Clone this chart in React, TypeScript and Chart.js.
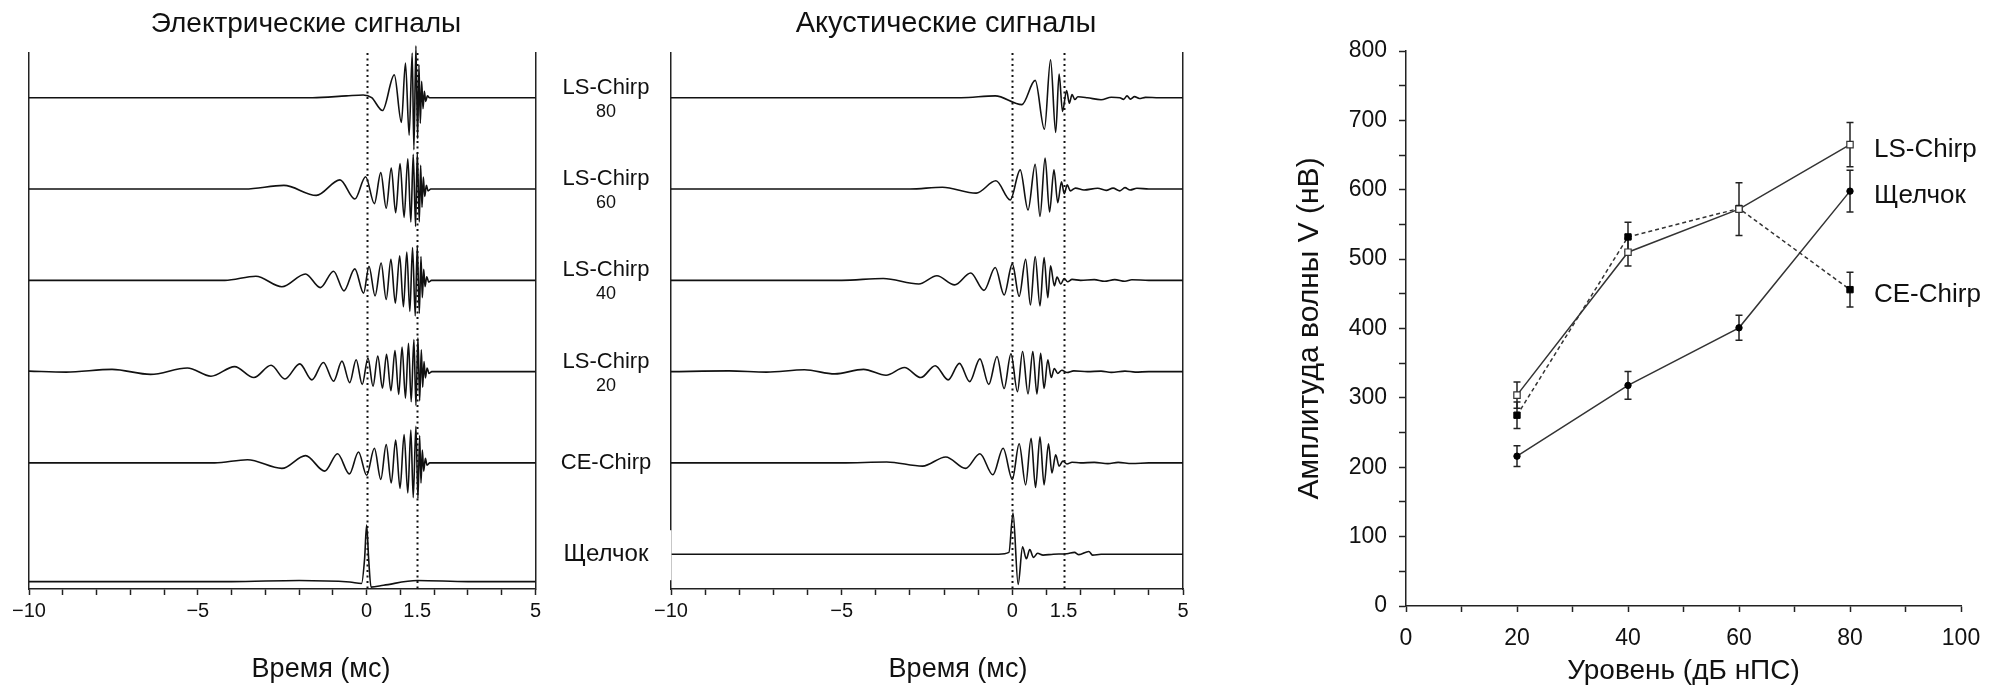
import React, { useEffect, useRef } from "react";
import { Chart, registerables } from "chart.js";

Chart.register(...registerables);

const FONT = '"Liberation Sans", Arial, Helvetica, sans-serif';
const INK = "#111";

// ---------- waveform panels (time in ms, amplitude in trace-spacing units) ----------
const timeTicks = [-10, -9, -8, -7, -6, -5, -4, -3, -2, -1, 0, 1, 1.5, 2, 3, 4, 5];
const timeLabels = [-10, -5, 0, 1.5, 5];
const markerTimes = [0, 1.5];

const traceNames = [["LS-Chirp", "80"], ["LS-Chirp", "60"], ["LS-Chirp", "40"], ["LS-Chirp", "20"], ["CE-Chirp"], ["Щелчок"]];
const electricBases = [6, 5, 4, 3, 2, 0.7];
const acousticBases = [6, 5, 4, 3, 2, 1.0];

const elecLS80 = [[-10, 0], [-1.6, 0], [-0.6, 0.02], [-0.1, 0.03], [0.15, 0], [0.47, -0.14], [0.82, 0.25], [1.03, -0.27], [1.15, 0.38], [1.26, -0.41], [1.35, 0.49], [1.40, -0.57], [1.46, 0.57], [1.51, -0.45], [1.55, 0.36], [1.59, -0.28], [1.63, 0.18], [1.67, -0.12], [1.71, 0.07], [1.75, -0.04], [1.80, 0.02], [1.86, 0], [5, 0]];
const elecLS60 = [[-10, 0], [-3.6, 0], [-2.45, 0.04], [-1.49, -0.07], [-0.79, 0.10], [-0.35, -0.11], [-0.03, 0.135], [0.23, -0.16], [0.42, 0.18], [0.58, -0.21], [0.73, 0.23], [0.86, -0.26], [0.99, 0.28], [1.11, -0.31], [1.22, 0.33], [1.31, -0.36], [1.38, 0.38], [1.45, -0.41], [1.50, 0.40], [1.56, -0.36], [1.60, 0.26], [1.64, -0.2], [1.68, 0.13], [1.72, -0.08], [1.77, 0.04], [1.82, -0.02], [1.9, 0], [5, 0]];
const elecLS40 = [[-10, 0], [-4.2, 0], [-3.28, 0.045], [-2.51, -0.07], [-1.81, 0.07], [-1.37, -0.08], [-0.98, 0.10], [-0.67, -0.115], [-0.35, 0.125], [-0.09, -0.14], [0.07, 0.155], [0.25, -0.17], [0.43, 0.19], [0.58, -0.21], [0.72, 0.23], [0.85, -0.25], [0.98, 0.27], [1.09, -0.29], [1.19, 0.31], [1.28, -0.34], [1.36, 0.36], [1.44, -0.39], [1.50, 0.38], [1.56, -0.36], [1.61, 0.26], [1.65, -0.19], [1.69, 0.12], [1.73, -0.07], [1.78, 0.04], [1.84, -0.02], [1.92, 0], [5, 0]];
const elecLS20 = [[-10, 0.005], [-8.9, -0.005], [-7.54, 0.025], [-6.4, -0.03], [-5.31, 0.04], [-4.61, -0.05], [-3.91, 0.055], [-3.34, -0.065], [-2.83, 0.07], [-2.42, -0.08], [-1.98, 0.085], [-1.62, -0.09], [-1.28, 0.1], [-0.98, -0.105], [-0.73, 0.115], [-0.50, -0.12], [-0.31, 0.13], [-0.13, -0.14], [0.04, 0.15], [0.19, -0.16], [0.33, 0.17], [0.47, -0.18], [0.59, 0.19], [0.72, -0.21], [0.84, 0.23], [0.95, -0.25], [1.05, 0.27], [1.15, -0.29], [1.24, 0.31], [1.32, -0.33], [1.40, 0.35], [1.46, -0.37], [1.52, 0.37], [1.57, -0.32], [1.62, 0.24], [1.66, -0.17], [1.70, 0.11], [1.74, -0.07], [1.79, 0.04], [1.85, -0.02], [1.93, 0], [5, 0]];
const elecCE = [[-10, 0], [-4.5, 0], [-3.53, 0.035], [-2.51, -0.06], [-1.81, 0.08], [-1.24, -0.09], [-0.86, 0.10], [-0.51, -0.12], [-0.24, 0.12], [0.0, -0.135], [0.23, 0.16], [0.42, -0.18], [0.58, 0.20], [0.73, -0.22], [0.86, 0.25], [0.99, -0.28], [1.11, 0.31], [1.22, -0.33], [1.31, 0.36], [1.38, -0.38], [1.46, 0.40], [1.52, -0.39], [1.57, 0.30], [1.61, -0.22], [1.65, 0.14], [1.69, -0.09], [1.74, 0.05], [1.79, -0.025], [1.87, 0], [5, 0]];
const elecClick = [[-10, 0], [-4, 0], [-2, 0.012], [-0.5, -0.005], [-0.15, -0.02], [-0.06, 0.25], [0, 0.62], [0.06, 0.25], [0.13, -0.06], [0.5, -0.04], [1.5, 0.012], [3, 0], [5, 0]];

const acousLS80 = [[-10, 0], [-1.5, 0], [-0.5, 0.02], [0.28, -0.075], [0.67, 0.19], [0.94, -0.345], [1.12, 0.415], [1.27, -0.38], [1.37, 0.26], [1.47, -0.15], [1.59, 0.08], [1.67, -0.06], [1.75, 0.035], [1.83, -0.02], [1.92, 0.01], [2.2, 0], [2.6, -0.022], [2.9, 0.006], [3.15, 0], [3.26, -0.018], [3.36, 0.02], [3.46, -0.015], [3.58, 0.012], [3.72, -0.008], [3.9, 0.004], [4.3, 0], [5, 0]];
const acousLS60 = [[-10, 0], [-3.0, 0], [-2.05, 0.02], [-1.06, -0.045], [-0.48, 0.09], [-0.06, -0.12], [0.23, 0.21], [0.46, -0.23], [0.67, 0.27], [0.81, -0.30], [0.96, 0.34], [1.09, -0.25], [1.22, 0.21], [1.33, -0.15], [1.44, 0.08], [1.52, -0.05], [1.61, 0.045], [1.70, -0.02], [1.85, 0.01], [2.1, -0.01], [2.5, 0.008], [2.75, -0.015], [2.95, 0.01], [3.15, -0.02], [3.3, 0.015], [3.45, -0.01], [3.65, 0.008], [4.0, 0], [5, 0]];
const acousLS40 = [[-10, 0], [-5.0, 0], [-3.78, 0.02], [-2.74, -0.04], [-2.21, 0.05], [-1.69, -0.05], [-1.22, 0.08], [-0.83, -0.11], [-0.50, 0.14], [-0.24, -0.16], [0.0, 0.18], [0.2, -0.175], [0.39, 0.23], [0.53, -0.27], [0.67, 0.26], [0.81, -0.28], [0.93, 0.25], [1.04, -0.19], [1.12, 0.16], [1.23, -0.06], [1.31, 0.035], [1.42, -0.04], [1.52, 0.02], [1.62, -0.015], [1.75, 0.01], [2.0, 0], [2.4, 0.008], [2.7, -0.01], [3.0, 0.008], [3.3, -0.01], [3.5, 0.006], [4.0, 0], [5, 0]];
const acousLS20 = [[-10, 0], [-8.3, 0.008], [-7.2, -0.005], [-6.09, 0.02], [-5.2, -0.025], [-4.36, 0.025], [-3.7, -0.04], [-3.16, 0.045], [-2.68, -0.065], [-2.26, 0.065], [-1.88, -0.09], [-1.55, 0.09], [-1.25, -0.11], [-0.95, 0.14], [-0.69, -0.14], [-0.45, 0.165], [-0.24, -0.185], [-0.04, 0.195], [0.15, -0.22], [0.30, 0.22], [0.46, -0.245], [0.60, 0.22], [0.72, -0.245], [0.83, 0.20], [0.93, -0.185], [1.04, 0.13], [1.14, -0.065], [1.23, 0.035], [1.33, -0.02], [1.45, 0.015], [1.6, -0.01], [1.8, 0.008], [2.2, 0], [2.6, 0.006], [2.9, -0.008], [3.3, 0.006], [3.6, -0.005], [4.0, 0], [5, 0]];
const acousCE = [[-10, 0], [-5, 0], [-3.68, 0.01], [-2.63, -0.035], [-1.95, 0.065], [-1.37, -0.06], [-0.95, 0.10], [-0.57, -0.13], [-0.27, 0.16], [0.0, -0.18], [0.2, 0.21], [0.39, -0.24], [0.55, 0.27], [0.68, -0.27], [0.81, 0.285], [0.93, -0.24], [1.06, 0.21], [1.16, -0.11], [1.27, 0.09], [1.37, -0.035], [1.48, 0.02], [1.6, -0.012], [1.75, 0.008], [2.0, 0], [2.4, 0.006], [2.8, -0.008], [3.1, 0.006], [3.5, -0.006], [4, 0], [5, 0]];
const acousClick = [[-10, 0], [-0.4, 0], [-0.1, 0.02], [0.02, 0.45], [0.17, -0.33], [0.30, 0.08], [0.41, -0.05], [0.51, 0.05], [0.62, -0.035], [0.74, 0.01], [0.9, -0.01], [1.2, 0], [1.6, 0.005], [1.82, 0.02], [1.95, -0.005], [2.24, 0.03], [2.35, -0.01], [2.6, 0], [5, 0]];

const electricTraces = [elecLS80, elecLS60, elecLS40, elecLS20, elecCE, elecClick];
const acousticTraces = [acousLS80, acousLS60, acousLS40, acousLS20, acousCE, acousClick];

// ---------- amplitude panel ----------
const levels = [20, 40, 60, 80];
const lsChirpAmp = [304, 510, 572, 665];
const lsChirpErr = [19, 20, 38, 32];
const ceChirpAmp = [275, 532, 573, 456];
const ceChirpErr = [19, 21, 0, 25];
const clickAmp = [216, 318, 401, 598];
const clickErr = [15, 20, 18, 30];
const seriesNames = ["LS-Chirp", "CE-Chirp", "Щелчок"];

const fmtTime = (v: number) => (v < 0 ? "\u2212" + Math.abs(v) : String(v));

function waveConfig(traces: number[][][], bases: number[], pad: any, textDraw: (chart: any) => void) {
  const markers = {
    id: "markers",
    beforeDatasetsDraw(chart: any) {
      const { ctx, chartArea, scales } = chart;
      ctx.save();
      ctx.strokeStyle = INK;
      ctx.lineWidth = 2;
      ctx.setLineDash([2, 3.5]);
      markerTimes.forEach((t) => {
        const x = Math.round(scales.x.getPixelForValue(t)) + 0.5;
        ctx.beginPath();
        ctx.moveTo(x, chartArea.top);
        ctx.lineTo(x, chartArea.bottom);
        ctx.stroke();
      });
      ctx.restore();
    },
    afterDraw(chart: any) {
      textDraw(chart);
    },
  };
  const yScale = (position: string) => ({
    type: "linear",
    axis: "y",
    position,
    min: 0.619,
    max: 6.49,
    ticks: { display: false },
    grid: { display: false },
    border: { display: true, color: "#222", width: 1.5 },
    afterFit: (s: any) => {
      s.width = 0;
    },
  });
  return {
    type: "line",
    data: {
      datasets: traces.map((pts, i) => ({
        data: pts.map((p) => ({ x: p[0], y: bases[i] + p[1] })),
        borderColor: INK,
        borderWidth: 1.6,
        pointRadius: 0,
        cubicInterpolationMode: "monotone",
        clip: false,
        fill: false,
      })),
    },
    options: {
      responsive: false,
      animation: false,
      events: [],
      layout: { padding: pad },
      plugins: { legend: { display: false }, tooltip: { enabled: false } },
      scales: {
        x: {
          type: "linear",
          min: -10,
          max: 5,
          afterBuildTicks: (s: any) => {
            s.ticks = timeTicks.map((v) => ({ value: v }));
          },
          afterFit: (s: any) => {
            s.height = 109;
          },
          ticks: {
            autoSkip: false,
            maxRotation: 0,
            padding: 4,
            color: INK,
            font: { family: FONT, size: 20 },
            callback: (v: number) => (timeLabels.includes(v) ? fmtTime(v) : ""),
          },
          grid: {
            display: true,
            drawOnChartArea: false,
            drawTicks: true,
            tickLength: 6,
            tickWidth: 1.5,
            tickColor: (c: any) => (c.tick && c.tick.value === 1.5 ? "rgba(0,0,0,0)" : "#222"),
          },
          border: { display: true, color: "#222", width: 1.5 },
        },
        y: yScale("left"),
        yR: yScale("right"),
      },
    },
    plugins: [markers],
  };
}

function drawText(ctx: any, text: string, x: number, y: number, size: number, align = "center", baseline = "alphabetic") {
  ctx.save();
  ctx.fillStyle = INK;
  ctx.font = `${size}px ${FONT}`;
  ctx.textAlign = align;
  ctx.textBaseline = baseline;
  ctx.fillText(text, x, y);
  ctx.restore();
}

function ampConfig() {
  const errBars = {
    id: "errbars",
    beforeDatasetsDraw(chart: any) {
      const { ctx, scales } = chart;
      ctx.save();
      ctx.strokeStyle = "#222";
      ctx.lineWidth = 1.5;
      chart.data.datasets.forEach((ds: any) => {
        ds.data.forEach((pt: any, i: number) => {
          const e = ds.errors[i];
          if (!e) return;
          const x = scales.x.getPixelForValue(pt.x);
          const y1 = scales.y.getPixelForValue(pt.y + e);
          const y2 = scales.y.getPixelForValue(pt.y - e);
          ctx.beginPath();
          ctx.moveTo(x, y1);
          ctx.lineTo(x, y2);
          ctx.moveTo(x - 3.5, y1);
          ctx.lineTo(x + 3.5, y1);
          ctx.moveTo(x - 3.5, y2);
          ctx.lineTo(x + 3.5, y2);
          ctx.stroke();
        });
      });
      ctx.restore();
    },
    afterDatasetsDraw(chart: any) {
      const { ctx, scales } = chart;
      chart.data.datasets.forEach((ds: any) => {
        const last = ds.data[ds.data.length - 1];
        const x = scales.x.getPixelForValue(last.x) + 24;
        const y = scales.y.getPixelForValue(last.y) + 5;
        drawText(ctx, ds.label, x, y, 26, "left", "middle");
      });
    },
  };
  const mk = (vals: number[]) => levels.map((l, i) => ({ x: l, y: vals[i] }));
  return {
    type: "line",
    data: {
      datasets: [
        {
          label: seriesNames[0],
          data: mk(lsChirpAmp),
          errors: lsChirpErr,
          borderColor: "#333",
          borderWidth: 1.5,
          pointStyle: "rect",
          pointRadius: 4.5,
          pointBackgroundColor: "#fff",
          pointBorderColor: "#333",
          pointBorderWidth: 1.2,
        },
        {
          label: seriesNames[1],
          data: mk(ceChirpAmp),
          errors: ceChirpErr,
          borderColor: "#333",
          borderWidth: 1.5,
          borderDash: [4, 3],
          pointStyle: "rect",
          pointRadius: 4.5,
          pointBackgroundColor: "#000",
          pointBorderColor: "#000",
          pointBorderWidth: 1,
        },
        {
          label: seriesNames[2],
          data: mk(clickAmp),
          errors: clickErr,
          borderColor: "#333",
          borderWidth: 1.5,
          pointStyle: "circle",
          pointRadius: 3.2,
          pointBackgroundColor: "#000",
          pointBorderColor: "#000",
          pointBorderWidth: 1,
        },
      ],
    },
    options: {
      responsive: false,
      animation: false,
      events: [],
      layout: { padding: { left: 0, right: 39, top: 51, bottom: 0 } },
      plugins: { legend: { display: false }, tooltip: { enabled: false } },
      scales: {
        x: {
          type: "linear",
          min: 0,
          max: 100,
          afterFit: (s: any) => {
            s.height = 92;
          },
          ticks: {
            stepSize: 10,
            autoSkip: false,
            maxRotation: 0,
            padding: 13,
            color: INK,
            font: { family: FONT, size: 23 },
            callback: (v: number) => (v % 20 === 0 ? String(v) : ""),
          },
          grid: { display: true, drawOnChartArea: false, tickLength: 6, tickWidth: 1.5, tickColor: "#222" },
          border: { display: true, color: "#222", width: 1.5 },
          title: {
            display: true,
            text: "Уровень (дБ нПС)",
            color: INK,
            font: { family: FONT, size: 28 },
            padding: { top: 0, bottom: 10 },
          },
        },
        y: {
          type: "linear",
          min: 0,
          max: 800,
          afterFit: (s: any) => {
            s.width = 116;
          },
          ticks: {
            stepSize: 50,
            autoSkip: false,
            padding: 12,
            color: INK,
            font: { family: FONT, size: 23 },
            callback: (v: number) => (v % 100 === 0 ? String(v) : ""),
          },
          grid: { display: true, drawOnChartArea: false, tickLength: 7, tickWidth: 1.5, tickColor: "#222" },
          border: { display: true, color: "#222", width: 1.5 },
          title: {
            display: true,
            text: "Амплитуда волны V (нВ)",
            color: INK,
            font: { family: FONT, size: 30 },
            padding: { top: 2, bottom: 0 },
          },
        },
      },
    },
    plugins: [errBars],
  };
}

function ChartCanvas({ left, width, make }: { left: number; width: number; make: () => any }) {
  const ref = useRef<HTMLCanvasElement>(null);
  useEffect(() => {
    const chart = new Chart(ref.current as HTMLCanvasElement, make());
    return () => chart.destroy();
  }, []);
  return <canvas ref={ref} width={width} height={698} style={{ position: "absolute", left, top: 0, width, height: 698, display: "block" }} />;
}

export default function App() {
  const leftText = (chart: any) => {
    const { ctx } = chart;
    drawText(ctx, "Электрические сигналы", 306, 32, 28);
    drawText(ctx, "Время (мс)", 321, 677, 27);
  };
  const midText = (chart: any) => {
    const { ctx, chartArea, scales } = chart;
    // white label background interrupting the axis at the click row
    const yc = scales.y.getPixelForValue(acousticBases[5]);
    ctx.save();
    ctx.fillStyle = "#fff";
    ctx.fillRect(chartArea.left - 4, yc - 24, 4.5, 50);
    ctx.restore();
    drawText(ctx, "Акустические сигналы", 401, 32, 29);
    drawText(ctx, "Время (мс)", 413, 677, 27);
    const lx = chartArea.left - 65;
    traceNames.forEach((names, i) => {
      const y = scales.y.getPixelForValue(acousticBases[i]);
      if (names.length === 2) {
        drawText(ctx, names[0], lx, y - 10, 22, "center", "middle");
        drawText(ctx, names[1], lx, y + 14, 18, "center", "middle");
      } else {
        const size = names[0] === "Щелчок" ? 24 : 22;
        drawText(ctx, names[0], lx, y, size, "center", "middle");
      }
    });
  };
  return (
    <div style={{ position: "absolute", left: 0, top: 0, width: 2000, height: 698, background: "#fff", overflow: "hidden" }}>
      <ChartCanvas left={0} width={545} make={() => waveConfig(electricTraces, electricBases, { left: 29, right: 4, top: 53, bottom: 0 }, leftText)} />
      <ChartCanvas left={545} width={745} make={() => waveConfig(acousticTraces, acousticBases, { left: 126, right: 107, top: 53, bottom: 0 }, midText)} />
      <ChartCanvas left={1290} width={710} make={ampConfig} />
    </div>
  );
}
